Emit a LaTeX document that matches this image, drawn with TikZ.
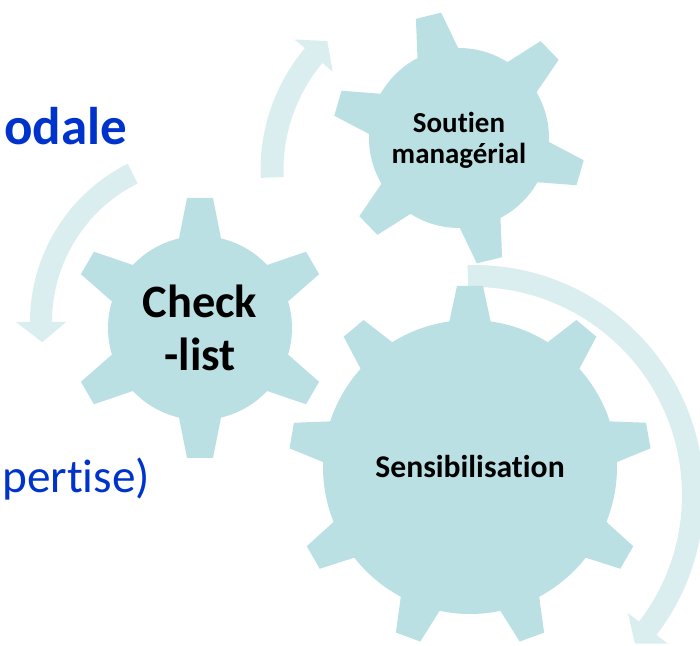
\documentclass[tikz,border=0pt]{standalone}
\usepackage{fontspec}
\setmainfont[Ligatures={NoCommon,NoDiscretionary}]{Carlito}
\usepackage{tikz}

\definecolor{gearblue}{RGB}{186,224,227}
\definecolor{arrowblue}{RGB}{218,237,239}
\definecolor{textblue}{RGB}{0,51,204}

% centre, body radius, tip radius, teeth, angle offset
\newcommand{\drawgear}[5]{
  \begin{scope}[shift={(#1)}]
    \fill[gearblue] (0,0) circle[radius=#2];
    \foreach \k in {1,...,#4}
      \fill[gearblue, rotate={#5+360/#4*\k-90}] (-22.5,#2-10) -- (-13,#3) -- (13,#3) -- (22.5,#2-10) -- cycle;
  \end{scope}
}

% centre, radius, half width, start angle, head angle, tip angle
\newcommand{\cyclearrow}[6]{
  \fill[arrowblue, shift={(#1)}]
    ({#4}:{#2+#3}) arc[start angle={#4}, end angle={#5}, radius={#2+#3}]
    -- ({#5}:{#2+25}) -- ({#6}:{#2}) -- ({#5}:{#2-25}) -- ({#5}:{#2-#3})
    arc[start angle={#5}, end angle={#4}, radius={#2-#3}] -- cycle;
}

\begin{document}
\begin{tikzpicture}[x=0.025cm, y=0.025cm,
    gearlabel/.style={font=\bfseries, align=center, inner sep=0pt}]

        \useasboundingbox (0,0) rectangle (700,646);

        \coordinate (cCheck) at (200,318);
        \coordinate (cSoutien) at (459,508);
        \coordinate (cSensib) at (470,179);

        \coordinate (aLeft) at (207,324);
        \coordinate (aTop) at (450,476);
        \coordinate (aRight) at (474,151);

        \cyclearrow{aLeft}{166}{11}{116.6}{180}{187}
        \cyclearrow{aTop}{178}{11.5}{182.4}{140}{133.6}
        \cyclearrow{aRight}{219}{11}{91.6}{-37.5}{-42.7}

        \drawgear{cCheck}{92}{130}{6}{30}
        \drawgear{cSoutien}{90}{126}{6}{-16}
        \drawgear{cSensib}{147}{181}{9}{50}

        \node [gearlabel, font=\fontsize{33}{38}\selectfont\bfseries] (checklist) at (cCheck) {Check\\-list};
        \node [gearlabel, font=\fontsize{20.6}{22}\selectfont\bfseries, yshift=-0.05cm] (soutien) at (cSoutien) {Soutien\\managérial};
        \node [gearlabel, font=\fontsize{22.5}{26}\selectfont\bfseries] (sensib) at (cSensib) {Sensibilisation};

        \node [anchor=base east, inner sep=0pt, textblue, font=\fontsize{37.7}{40}\selectfont\bfseries] (modale) at (127.5,501) {odale};
        \node [anchor=base west, inner sep=0pt, textblue, font=\fontsize{33.6}{37}\selectfont] (expertise) at (2,153) {pertise)};

      \end{tikzpicture}
\end{document}
